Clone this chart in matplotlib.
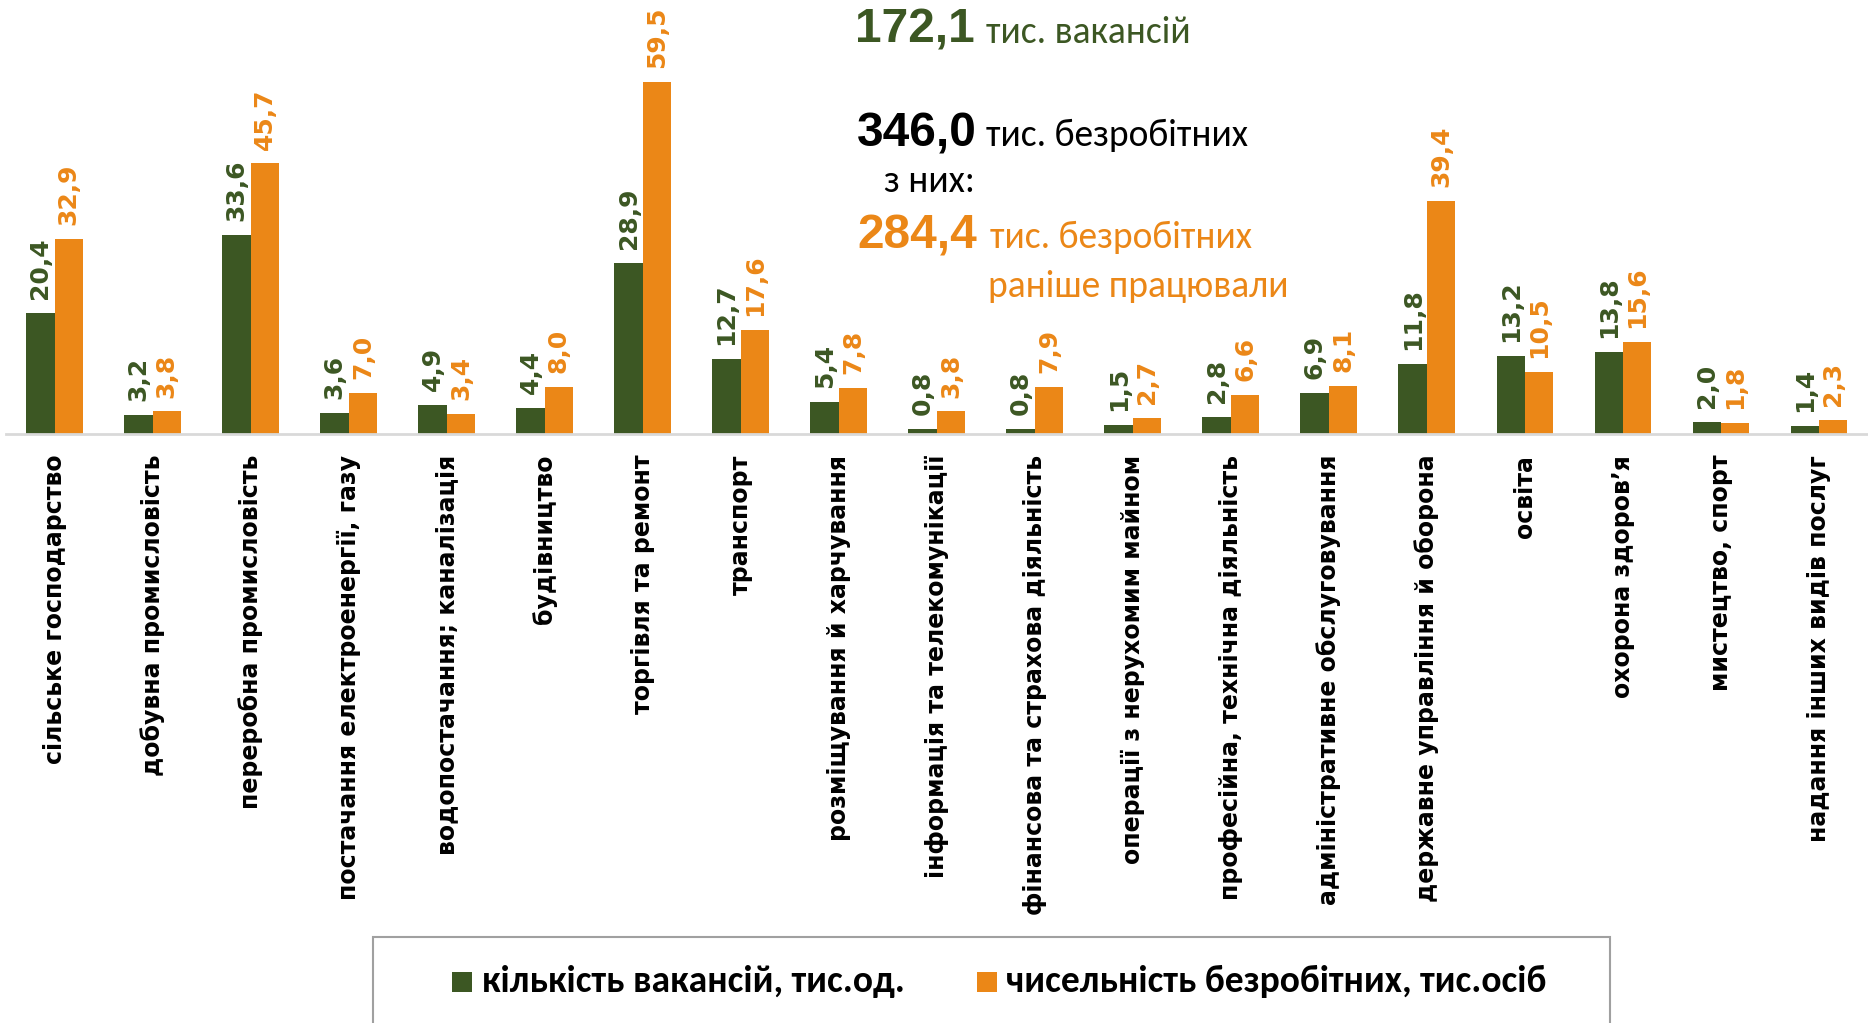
import matplotlib.pyplot as plt
from matplotlib.patches import Rectangle

categories = ['сільське господарство', 'добувна промисловість', 'переробна промисловість',
              'постачання електроенергії, газу', 'водопостачання; каналізація', 'будівництво',
              'торгівля та ремонт', 'транспорт', 'розміщування й харчування',
              'інформація та телекомунікації', 'фінансова та страхова діяльність',
              'операції з нерухомим майном', 'професійна, технічна діяльність',
              'адміністративне обслуговування', 'державне управління й оборона', 'освіта',
              'охорона здоров’я', 'мистецтво, спорт', 'надання інших видів послуг']
vacancies = [20.4, 3.2, 33.6, 3.6, 4.9, 4.4, 28.9, 12.7, 5.4, 0.8, 0.8, 1.5, 2.8, 6.9, 11.8, 13.2, 13.8, 2.0, 1.4]
unemployed = [32.9, 3.8, 45.7, 7.0, 3.4, 8.0, 59.5, 17.6, 7.8, 3.8, 7.9, 2.7, 6.6, 8.1, 39.4, 10.5, 15.6, 1.8, 2.3]
series_names = ['кількість вакансій, тис.од.', 'чисельність безробітних, тис.осіб']

green = '#3c5723'
orange = '#eb8717'
num_font = ['Liberation Sans', 'DejaVu Sans']
txt_font = ['Carlito', 'DejaVu Sans']

fig = plt.figure(figsize=(18.68, 10.23), dpi=100)
ax = fig.add_axes([0.003, 0.5758, 0.997, 0.4242])

x = list(range(len(categories)))
w = 0.29
b1 = ax.bar([i - w / 2 for i in x], vacancies, w, color=green, label=series_names[0])
b2 = ax.bar([i + w / 2 for i in x], unemployed, w, color=orange, label=series_names[1])

fmt = lambda v: f'{v:.1f}'.replace('.', ',')
for bars, vals, c in [(b1, vacancies, green), (b2, unemployed, orange)]:
    for r, v in zip(bars, vals):
        ax.annotate(fmt(v), (r.get_x() + r.get_width() / 2, v), xytext=(0, 10),
                    textcoords='offset points', rotation=90, ha='center', va='bottom',
                    fontsize=18, fontweight='bold', color=c)

ax.set_xlim(-0.5, 18.5)
ax.set_ylim(0, 73.3)
ax.set_xticks(x)
ax.set_xticklabels(categories, rotation=90, fontsize=17, fontweight='bold', va='top')
ax.tick_params(axis='x', length=0, pad=15)
ax.set_yticks([])
for s in ['top', 'right', 'left']:
    ax.spines[s].set_visible(False)
ax.spines['bottom'].set_color('#d9d9d9')
ax.spines['bottom'].set_linewidth(2)


def px(xp, yp):
    return xp / 1868, 1 - yp / 1023


# summary text at the top
fig.text(*px(975, 43), '172,1', ha='right', va='baseline', fontsize=34.5, fontweight='bold', color=green, family=num_font)
fig.text(*px(986, 43), 'тис. вакансій', ha='left', va='baseline', fontsize=27, color=green, family=txt_font)
fig.text(*px(977, 147), '346,0', ha='right', va='baseline', fontsize=34.5, fontweight='bold', color='black', family=num_font)
fig.text(*px(986, 146), 'тис. безробітних', ha='left', va='baseline', fontsize=27, color='black', family=txt_font)
fig.text(*px(975, 192), 'з них:', ha='right', va='baseline', fontsize=27, color='black', family=txt_font)
fig.text(*px(977, 248), '284,4', ha='right', va='baseline', fontsize=34.5, fontweight='bold', color=orange, family=num_font)
fig.text(*px(990, 248), 'тис. безробітних', ha='left', va='baseline', fontsize=27, color=orange, family=txt_font)
fig.text(*px(988, 297), 'раніше працювали', ha='left', va='baseline', fontsize=27, color=orange, family=txt_font)

# legend box with two entries
fig.patches.append(Rectangle(px(373, 1040), 1237 / 1868, 103 / 1023, transform=fig.transFigure,
                             facecolor='white', edgecolor='#a0a0a0', linewidth=1.5))
for sx, tx, c, name in [(452, 482, green, series_names[0]), (977, 1006, orange, series_names[1])]:
    fig.patches.append(Rectangle(px(sx, 992), 20 / 1868, 20 / 1023, transform=fig.transFigure,
                                 facecolor=c, edgecolor='none'))
    fig.text(*px(tx, 992), name, ha='left', va='baseline', fontsize=27, fontweight='bold',
             color='black', family=txt_font)

fig.savefig('out.png', dpi=100)
